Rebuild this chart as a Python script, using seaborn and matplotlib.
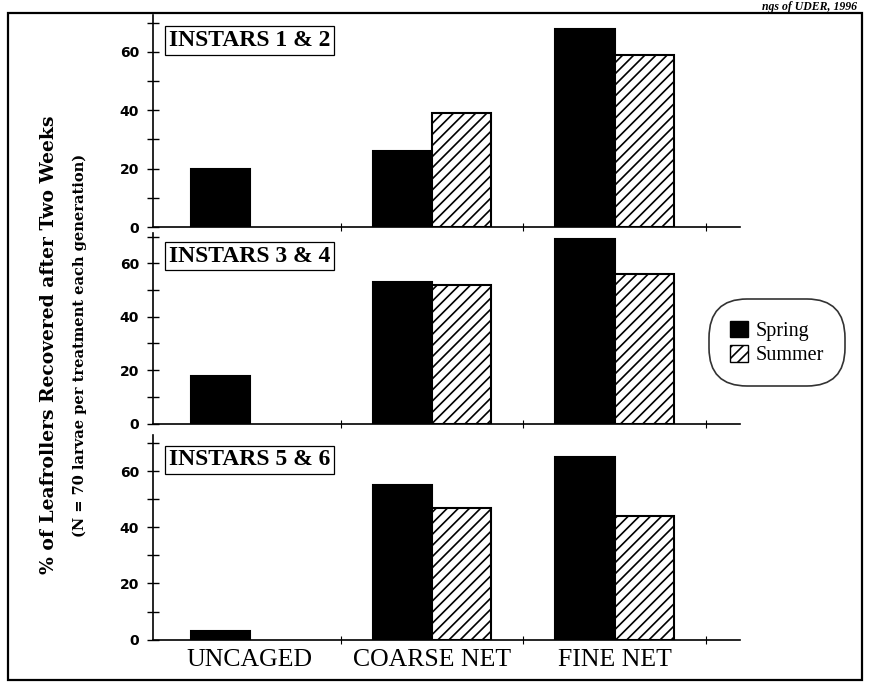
import numpy as np
import pandas as pd
import matplotlib
matplotlib.use("Agg")
import matplotlib.pyplot as plt
import seaborn as sns
from matplotlib.patches import Patch, Rectangle

# values (% recovered)
treatments = ["UNCAGED", "COARSE NET", "FINE NET"]
seasons = ["Spring", "Summer"]
panels = ["INSTARS 1 & 2", "INSTARS 3 & 4", "INSTARS 5 & 6"]
spring_vals = [[20, 26, 68], [18, 53, 69], [3, 55, 65]]
summer_vals = [[np.nan, 39, 59], [np.nan, 52, 56], [np.nan, 47, 44]]
ytick_labels = ["0", "20", "40", "60"]

rows = []
for p, sp, su in zip(panels, spring_vals, summer_vals):
    for t, a, b in zip(treatments, sp, su):
        rows.append((p, t, "Spring", a))
        rows.append((p, t, "Summer", b))
df = pd.DataFrame(rows, columns=["panel", "treatment", "season", "value"])

sns.set_style("white")
plt.rcParams["hatch.linewidth"] = 1.2
plt.rcParams["text.color"] = "black"
plt.rcParams["xtick.color"] = "black"
plt.rcParams["ytick.color"] = "black"

fig = plt.figure(figsize=(8.7, 6.9), dpi=100)

# axes boxes (figure fractions)
boxes = [[0.176, 0.671, 0.675, 0.307],
         [0.176, 0.386, 0.675, 0.277],
         [0.176, 0.073, 0.675, 0.297]]
ytops = [72.6, 71.5, 73.0]

for i, p in enumerate(panels):
    ax = fig.add_axes(boxes[i])
    sub = df[df["panel"] == p]
    sns.barplot(data=sub, x="treatment", y="value", hue="season",
                order=treatments, hue_order=seasons,
                palette={"Spring": "black", "Summer": "white"},
                edgecolor="black", linewidth=1.5, width=0.65, gap=0,
                errorbar=None, legend=False, ax=ax)
    for cont, s in zip(ax.containers, seasons):
        if s == "Summer":
            for bar in cont:
                bar.set_hatch("///")

    ax.set_xlim(-0.53, 2.69)
    ax.set_ylim(0, ytops[i])
    ax.set_yticks([0, 20, 40, 60])
    ax.set_yticks([10, 30, 50, 70], minor=True)
    ax.set_yticklabels(ytick_labels, fontfamily="DejaVu Sans",
                       fontweight="bold", fontsize=10)
    ax.tick_params(axis="y", which="both", direction="inout", length=8,
                   width=1, left=True, pad=6)
    ax.set_xticks([0.5, 1.5, 2.5], minor=True)
    ax.tick_params(axis="x", which="minor", direction="inout", length=6,
                   width=0.8, bottom=True)
    ax.tick_params(axis="x", which="major", length=0)
    if i < 2:
        ax.set_xticklabels([])
    else:
        ax.set_xticks([0, 1, 2])
        ax.set_xticklabels(treatments, fontfamily="Liberation Serif",
                           fontsize=18.5)
        ax.tick_params(axis="x", which="major", pad=7)
    ax.set_xlabel("")
    ax.set_ylabel("")
    for side in ["top", "right"]:
        ax.spines[side].set_visible(False)
    for side in ["left", "bottom"]:
        ax.spines[side].set_color("black")
        ax.spines[side].set_linewidth(1.2)

    ax.text(0.027, 0.93, p, transform=ax.transAxes, ha="left", va="top",
            fontfamily="Liberation Serif", fontweight="bold", fontsize=17,
            bbox=dict(boxstyle="square,pad=0.15", fc="white", ec="black",
                      lw=0.9))

# y label and its note
fig.text(0.056, 0.50, "% of Leafrollers Recovered after Two Weeks",
         rotation=90, ha="center", va="center", fontfamily="DejaVu Serif",
         fontweight="bold", fontsize=13.5)
fig.text(0.092, 0.50, "(N = 70 larvae per treatment each generation)",
         rotation=90, ha="center", va="center", fontfamily="DejaVu Serif",
         fontweight="bold", fontsize=10.5)

# legend in a rounded box
handles = [Patch(facecolor="black", edgecolor="black", label="Spring"),
           Patch(facecolor="white", edgecolor="black", hatch="///",
                 label="Summer")]
leg = fig.legend(handles=handles, loc="center", bbox_to_anchor=(0.893, 0.503),
                 prop={"family": "Liberation Serif", "size": 14.5},
                 handlelength=0.9, handleheight=0.9, handletextpad=0.35,
                 labelspacing=0.2, borderpad=0.8, frameon=True)
frame = leg.get_frame()
frame.set_boxstyle("round,pad=0.25,rounding_size=1.9")
frame.set_edgecolor("black")
frame.set_linewidth(1.2)

# outer frame of the scanned page
fig.patches.append(Rectangle((0.009, 0.0145), 0.982, 0.9665,
                             transform=fig.transFigure, fill=False,
                             edgecolor="black", linewidth=1.6))

# heading line at the very top of the scan (cut off in the original)
fig.text(0.985, 0.999, "ngs of UDER, 1996", ha="right", va="top",
         fontfamily="Liberation Serif", fontstyle="italic",
         fontweight="bold", fontsize=8.5)

fig.savefig("out.png", dpi=100)
